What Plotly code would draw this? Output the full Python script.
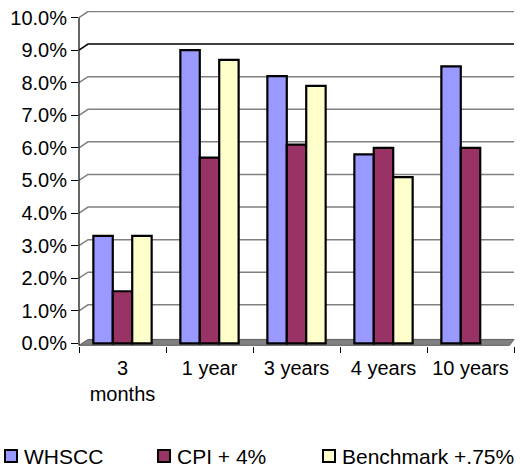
import plotly.graph_objects as go

categories = ["3<br>months", "1 year", "3 years", "4 years", "10 years"]
series_names = ["WHSCC", "CPI + 4%", "Benchmark +.75%"]
whscc = [3.3, 9.0, 8.2, 5.8, 8.5]
cpi = [1.6, 5.7, 6.1, 6.0, 6.0]
benchmark = [3.3, 8.7, 7.9, 5.1, None]
series_colors = ["#9999FF", "#993366", "#FFFFCC"]
tick_vals = [0, 1, 2, 3, 4, 5, 6, 7, 8, 9, 10]
tick_text = [f"{v:.1f}%" for v in tick_vals]

FONT = "Liberation Sans, Arial, sans-serif"
L, R, T, B = 79, 6, 11, 122
W, H = 520, 468
PW, PH = W - L - R, H - T - B

fig = go.Figure()
for name, vals, col in zip(series_names, [whscc, cpi, benchmark], series_colors):
    fig.add_bar(name=name, x=categories, y=vals,
                marker=dict(color=col, line=dict(color="black", width=2.2)))

shapes = []
# 3D-style back-wall gridlines (slanted from the front axis)
dx = 9 / PW
dy = 6 / (PH / 10.28)
for v in tick_vals[1:]:
    shapes.append(dict(type="path", xref="paper", yref="y", layer="below",
                       path=f"M 0,{v} L {dx},{v + dy} L 1,{v + dy}",
                       line=dict(color="black" if v == 9 else "#808080", width=1.5)))
# floor
shapes.append(dict(type="path", xref="paper", yref="y", layer="below",
                   path=f"M 0,-0.06 L {dx},{dy * 0.66} L 1,{dy * 0.66} L {1 - dx * 0.5},-0.06 Z",
                   fillcolor="#808080", line=dict(color="#606060", width=1)))
# front vertical axis line
shapes.append(dict(type="line", xref="paper", yref="y", x0=0, x1=0, y0=-0.06, y1=10,
                   line=dict(color="black", width=1.2)))

# manual legend (matches Excel legend spacing)
legend_px = [5, 158, 323]
legend_cy = 456
annotations = []
for name, col, px in zip(series_names, series_colors, legend_px):
    x0 = (px - L) / PW
    x1 = (px + 12 - L) / PW
    y0 = (T + PH - (legend_cy + 6)) / PH
    y1 = (T + PH - (legend_cy - 6)) / PH
    shapes.append(dict(type="rect", xref="paper", yref="paper", x0=x0, x1=x1, y0=y0, y1=y1,
                       fillcolor=col, line=dict(color="black", width=2)))
    annotations.append(dict(text=name, xref="paper", yref="paper", x=(px + 17 - L) / PW,
                            y=(T + PH - legend_cy) / PH, xanchor="left", yanchor="middle",
                            showarrow=False, font=dict(family=FONT, size=21, color="black")))

fig.update_layout(
    width=W, height=H,
    margin=dict(l=L, r=R, t=T, b=B),
    paper_bgcolor="white", plot_bgcolor="white",
    barmode="group", bargap=0.33, bargroupgap=0,
    font=dict(family=FONT, size=20, color="black"),
    showlegend=False,
    shapes=shapes, annotations=annotations,
    xaxis=dict(showline=False, ticks="outside", ticklen=6, tickwidth=1.2,
               tickcolor="black", tickson="boundaries", tickangle=0, ticklabelstandoff=8,
               tickfont=dict(size=20), showgrid=False),
    yaxis=dict(range=[-0.08, 10.2], tickvals=tick_vals, ticktext=tick_text,
               showline=False, ticks="outside", ticklen=7, tickwidth=1.2,
               tickcolor="black", showgrid=False, zeroline=False, tickfont=dict(size=20)),
)

fig.write_html("out.html", config={"displayModeBar": False},
               post_script="document.body.style.margin='0';")
